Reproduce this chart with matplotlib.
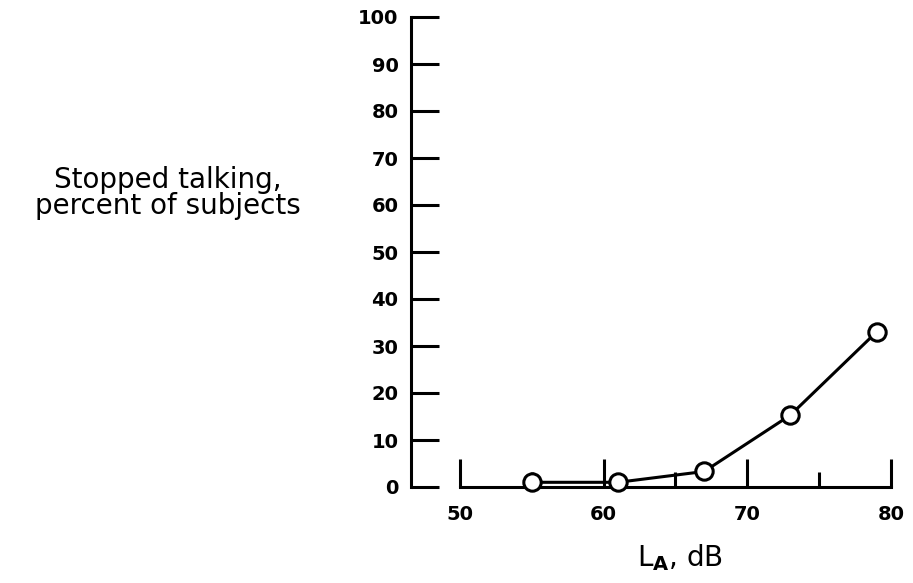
import numpy as np
import matplotlib.pyplot as plt

# level (dB) vs share of subjects who stopped talking (%)
level = [55, 61, 67, 73, 79]
stopped = [1, 1, 3.3, 15.3, 33]

xticks = [50, 60, 70, 80]
xminor = [55, 65, 75]
yticks = list(range(0, 101, 10))

fig = plt.figure(figsize=(9.13, 5.83), dpi=100)
W, H = 913, 583
# axes box in pixels: left spine at x=411, x=80 at 891, y=0 at 487, y=100 at 17
ax = fig.add_axes([411 / W, (H - 487) / H, (891 - 411) / W, (487 - 17) / H])
ax.set_xlim(46.6, 80)
ax.set_ylim(0, 100)

ax.plot(level, stopped, color='black', lw=2.2, marker='o', ms=12.5,
        mfc='white', mec='black', mew=2.2, clip_on=False, zorder=5)

for s in ['top', 'right']:
    ax.spines[s].set_visible(False)
ax.spines['left'].set_linewidth(2.2)
ax.spines['bottom'].set_linewidth(2.2)
ax.spines['bottom'].set_bounds(50, 80)

ax.set_xticks(xticks)
ax.set_xticks(xminor, minor=True)
ax.set_yticks(yticks)
ax.tick_params(axis='x', which='major', direction='in', length=20, width=2.2,
               pad=13, labelsize=14)
ax.tick_params(axis='x', which='minor', direction='in', length=11, width=2.2)
ax.tick_params(axis='y', which='major', direction='in', length=20, width=2.2,
               pad=9, labelsize=14)
for lab in ax.get_xticklabels() + ax.get_yticklabels():
    lab.set_fontweight('bold')

ax.set_xlabel(r'L$_{\mathbf{A}}$, dB', fontsize=20)
ax.xaxis.set_label_coords(0.56, -0.118)
fig.text(168 / W, 1 - 193 / H, 'Stopped talking,\npercent of subjects',
         fontsize=20, ha='center', va='center', linespacing=0.95)

fig.savefig('out.png', dpi=100)
